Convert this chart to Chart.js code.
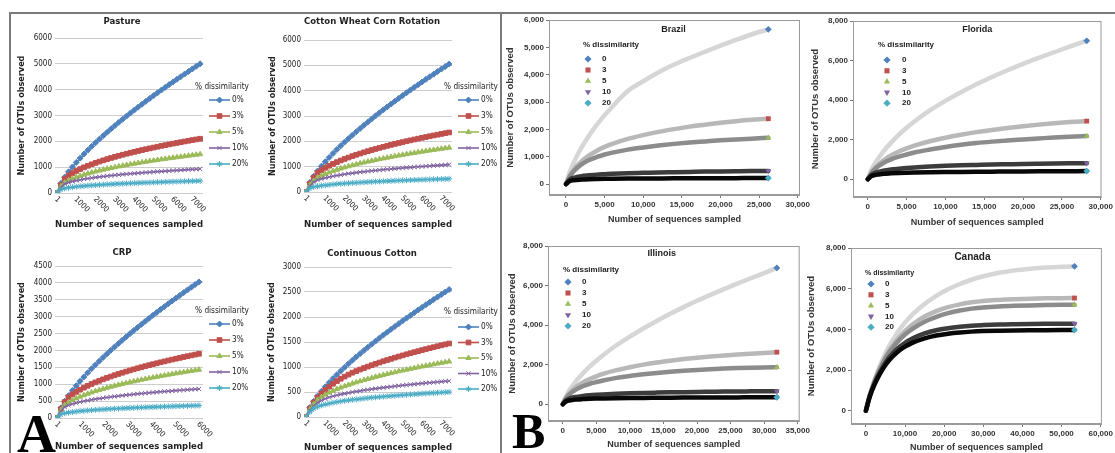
<!DOCTYPE html>
<html>
<head>
<meta charset="utf-8">
<script src="https://cdn.jsdelivr.net/npm/chart.js@4.4.1/dist/chart.umd.min.js"></script>
<style>
body{margin:0;background:#fff}
#fig{position:relative;width:1115px;height:453px;overflow:hidden;background:#fff}
#fig canvas{position:absolute}
.ln{position:absolute;background:#7a7a7a}
.big{position:absolute;font-family:'Liberation Serif','Times New Roman',serif;font-weight:bold;color:#000;line-height:1}
</style>
</head>
<body>
<div id="fig">
  <div class="ln" style="left:9px;top:12px;width:1106px;height:1.5px"></div>
  <div class="ln" style="left:9px;top:12px;width:1.5px;height:441px"></div>
  <div class="ln" style="left:500px;top:12px;width:2px;height:441px"></div>
  <canvas id="cPasture" width="248" height="220" style="left:10px;top:13px"></canvas>
  <canvas id="cCwcr" width="242" height="220" style="left:259px;top:13px"></canvas>
  <canvas id="cCrp" width="248" height="217" style="left:10px;top:236px"></canvas>
  <canvas id="cCotton" width="242" height="217" style="left:259px;top:236px"></canvas>
  <canvas id="cBrazil" width="310" height="215" style="left:502px;top:13px"></canvas>
  <canvas id="cFlorida" width="309" height="215" style="left:806px;top:13px"></canvas>
  <canvas id="cIllinois" width="310" height="217" style="left:502px;top:236px"></canvas>
  <canvas id="cCanada" width="309" height="217" style="left:806px;top:236px"></canvas>
  <div class="big" style="left:17px;top:407px;font-size:54px">A</div>
  <div class="big" style="left:512px;top:406px;font-size:50px">B</div>
</div>
<script>
// fuentes
const FA = "'Liberation Sans Narrow','DejaVu Sans Condensed','Arial Narrow',sans-serif"
const FB = "'Liberation Sans',Arial,sans-serif"

// categorias
const pctA = ['0%', '3%', '5%', '10%', '20%']
const pctB = ['0', '3', '5', '10', '20']

// panel A: eje x (secuencias) y etiquetas
const xA = [1,200,400,600,800,1000,1200,1400,1600,1800,2000,2200,2400,2600,2800,3000,3200,3400,3600,3800,4000,4200,4400,4600,4800,5000,5200,5400,5600,5800,6000,6200,6400,6600,6800,7000,7200,7400]
const xCrp = [1,162,324,486,649,811,973,1135,1297,1459,1622,1784,1946,2108,2270,2432,2595,2757,2919,3081,3243,3405,3568,3730,3892,4054,4216,4378,4541,4703,4865,5027,5189,5351,5514,5676,5838,6000]
const ticks7000 = [1,1000,2000,3000,4000,5000,6000,7000]
const ticks6000 = [1,1000,2000,3000,4000,5000,6000]

const pasture0 = [1,372,612,820,1008,1184,1350,1508,1660,1807,1950,2088,2223,2355,2484,2610,2734,2857,2977,3094,3211,3326,3439,3551,3662,3771,3879,3985,4091,4196,4299,4402,4504,4605,4705,4804,4903,5000]
const pasture3 = [1,300,540,678,772,853,926,993,1054,1112,1166,1217,1265,1312,1356,1399,1440,1480,1519,1556,1592,1628,1662,1696,1728,1760,1792,1822,1852,1882,1911,1939,1967,1995,2022,2048,2074,2100]
const pasture5 = [1,260,404,484,551,609,662,709,753,794,833,869,904,937,969,999,1029,1057,1085,1111,1137,1163,1187,1211,1235,1257,1280,1302,1323,1344,1365,1385,1405,1425,1444,1463,1482,1500]
const pasture10 = [1,220,355,406,446,480,510,537,561,583,604,623,641,659,675,690,705,720,733,746,759,771,783,795,806,817,828,838,848,858,868,877,886,895,904,913,922,930]
const pasture20 = [1,130,179,205,226,243,258,271,284,295,305,315,324,333,341,349,356,364,371,377,384,390,396,402,407,413,418,424,429,434,439,443,448,453,457,461,466,470]

const cwcr0 = [1,375,618,828,1018,1195,1363,1523,1677,1825,1969,2108,2245,2378,2508,2636,2761,2885,3006,3125,3243,3359,3473,3586,3698,3808,3917,4025,4132,4237,4342,4446,4549,4651,4752,4852,4952,5050]
const cwcr3 = [1,320,570,759,864,955,1037,1111,1180,1244,1304,1361,1416,1468,1517,1565,1612,1656,1699,1741,1782,1821,1860,1897,1934,1970,2005,2039,2073,2106,2138,2170,2201,2232,2262,2292,2321,2350]
const cwcr5 = [1,280,440,565,643,711,772,827,879,926,971,1014,1054,1093,1130,1166,1200,1233,1265,1297,1327,1356,1385,1413,1440,1467,1493,1519,1544,1568,1592,1616,1639,1662,1685,1707,1729,1750]
const cwcr10 = [1,240,390,471,518,558,593,623,652,677,701,724,745,765,784,802,819,836,851,867,882,896,910,923,936,949,961,973,985,997,1008,1019,1029,1040,1050,1060,1070,1080]
const cwcr20 = [1,140,199,227,250,269,285,300,314,326,338,348,359,368,377,386,394,402,410,417,424,431,438,444,451,457,463,469,474,480,485,491,496,501,506,511,515,520]

const crp0 = [1,299,493,661,812,954,1088,1215,1338,1456,1571,1683,1792,1898,2002,2104,2204,2302,2399,2494,2588,2680,2772,2862,2951,3039,3126,3212,3297,3382,3465,3548,3630,3711,3792,3872,3951,4030]
const crp3 = [1,260,470,614,698,772,838,898,954,1006,1055,1101,1145,1187,1227,1266,1303,1339,1374,1408,1441,1473,1503,1534,1564,1593,1621,1649,1676,1703,1729,1755,1780,1805,1829,1853,1877,1900]
const crp5 = [1,230,385,462,526,581,631,676,718,757,794,828,862,893,923,953,981,1008,1034,1059,1084,1108,1132,1155,1177,1199,1220,1241,1261,1282,1301,1321,1340,1358,1377,1395,1413,1430]
const crp10 = [1,200,328,375,413,444,472,496,519,539,558,576,593,609,624,638,652,665,678,690,702,713,724,735,746,756,765,775,784,794,802,811,820,828,836,844,852,860]
const crp20 = [1,100,141,161,178,191,203,214,223,232,240,248,255,262,268,275,281,286,292,297,302,307,312,316,321,325,329,333,337,341,345,349,353,356,360,363,367,370]

const cotton0 = [1,189,312,418,514,604,688,769,847,921,994,1065,1134,1201,1267,1331,1394,1457,1518,1578,1638,1696,1754,1811,1867,1923,1978,2032,2086,2140,2192,2245,2297,2348,2400,2450,2500,2550]
const cotton3 = [1,170,290,390,470,540,605,665,718,765,808,848,886,918,949,979,1008,1036,1063,1089,1115,1139,1163,1187,1210,1232,1254,1276,1297,1317,1338,1358,1377,1396,1415,1434,1452,1470]
const cotton5 = [1,150,255,340,400,447,488,525,557,588,616,643,669,693,717,739,761,782,803,822,842,860,878,896,914,931,947,963,979,995,1010,1025,1040,1054,1069,1083,1096,1110]
const cotton10 = [1,130,220,285,330,365,393,416,434,452,468,482,497,510,522,535,546,557,568,578,588,597,606,615,624,633,641,649,657,664,672,679,686,693,700,707,714,720]
const cotton20 = [1,100,165,205,232,252,270,286,300,314,325,335,345,354,363,371,379,387,394,401,408,415,421,427,433,439,445,451,456,461,467,472,477,481,486,491,496,500]

// panel B
const brazilX = [0,500,1000,2000,3000,4000,5000,6000,8000,10000,12000,14000,16000,18000,20000,22000,24000,26200]
const brazil0 = [0,450,780,1330,1780,2170,2520,2830,3400,3760,4090,4370,4610,4840,5060,5270,5470,5660]
const brazil3 = [0,300,520,830,1050,1220,1360,1470,1650,1790,1910,2010,2100,2170,2240,2300,2350,2390]
const brazil5 = [0,280,470,720,880,990,1080,1150,1260,1340,1410,1470,1520,1560,1600,1630,1660,1690]
const brazil10 = [0,170,230,290,320,345,360,375,395,410,425,435,445,455,462,468,474,480]
const brazil20 = [0,110,140,165,178,185,190,194,200,204,207,210,212,214,216,217,218,220]
const brazilXTicks = [0,5000,10000,15000,20000,25000,30000]
const brazilYTicks = [0,1000,2000,3000,4000,5000,6000]

const floridaX = [0,500,1000,2000,3000,4000,5000,6000,8000,10000,12000,14000,16000,18000,20000,22000,24000,26000,28200]
const florida0 = [0,500,850,1400,1850,2250,2600,2920,3480,3960,4400,4800,5170,5510,5830,6130,6420,6700,7000]
const florida3 = [0,350,600,950,1200,1400,1560,1700,1920,2100,2250,2380,2490,2590,2680,2760,2830,2890,2940]
const florida5 = [0,320,540,820,1000,1140,1250,1350,1500,1630,1740,1830,1900,1960,2010,2060,2110,2150,2180]
const florida10 = [0,230,330,430,490,530,565,595,640,675,700,720,740,755,770,782,793,802,810]
const florida20 = [0,160,220,270,295,315,328,338,352,362,370,377,383,389,394,398,402,406,410]
const floridaXTicks = [0,5000,10000,15000,20000,25000,30000]

const illinoisX = [0,500,1000,2000,3000,4000,5000,6000,8000,10000,12000,14000,16000,18000,20000,22000,24000,26000,28000,30000,31900]
const illinois0 = [0,420,720,1180,1560,1900,2200,2480,2980,3420,3830,4210,4570,4910,5230,5530,5820,6100,6370,6630,6890]
const illinois3 = [0,330,560,880,1100,1270,1410,1530,1720,1870,2000,2110,2200,2280,2350,2410,2460,2510,2550,2590,2630]
const illinois5 = [0,300,500,750,910,1030,1120,1200,1330,1430,1510,1580,1640,1690,1730,1770,1800,1825,1845,1860,1870]
const illinois10 = [0,200,290,370,415,450,475,495,525,550,570,585,598,610,620,628,636,643,649,655,660]
const illinois20 = [0,140,190,235,258,273,283,291,303,312,319,324,329,333,336,339,342,344,346,348,350]
const illinoisXTicks = [0,5000,10000,15000,20000,25000,30000,35000]

const canadaX = [0,1000,2000,3000,4000,5000,6000,8000,10000,12000,15000,18000,21000,24000,27000,30000,34000,38000,42000,46000,50000,53300]
const canada0 = [0,780,1400,1930,2400,2820,3190,3820,4330,4750,5250,5650,5970,6230,6440,6610,6780,6900,6980,7040,7080,7100]
const canada3 = [0,760,1350,1840,2260,2640,2970,3500,3920,4250,4630,4900,5090,5230,5330,5400,5450,5485,5510,5525,5535,5540]
const canada5 = [0,750,1320,1800,2200,2560,2870,3370,3750,4040,4380,4620,4800,4930,5020,5080,5130,5160,5180,5195,5205,5210]
const canada10 = [0,720,1250,1680,2040,2360,2630,3040,3340,3560,3800,3960,4060,4130,4180,4210,4240,4255,4265,4272,4277,4280]
const canada20 = [0,700,1200,1600,1950,2250,2500,2880,3150,3350,3560,3700,3790,3850,3890,3915,3935,3950,3958,3963,3967,3970]
const canadaXTicks = [0,10000,20000,30000,40000,50000,60000]

const yTicks8000 = [0,2000,4000,6000,8000]

// estilos
const coloresA = ['#4f81bd', '#c0504d', '#9bbb59', '#8064a2', '#4bacc6']
const marcasA = ['rectRot', 'rect', 'triangle', 'crossRot', 'star']
const radiosA = [3, 3.3, 3, 3, 3]
const grisesB = ['#d6d6d6', '#b8b8b8', '#8c8c8c', '#3c3c3c', '#080808']
const marcasB = ['rectRot', 'rect', 'triangle', 'triangle', 'rectRot']
const giroB = [0, 0, 0, 180, 0]

const drawPt = (Chart.helpers && Chart.helpers.drawPoint) ? Chart.helpers.drawPoint : null

// etiquetas del eje x giradas (estilo Excel)
const rotTicks = {
    id: 'rotTicks',
    afterDraw(chart, args, opts) {
        const sx = chart.scales.x
        const ctx = chart.ctx
        const b = chart.chartArea.bottom
        ctx.save()
        ctx.fillStyle = '#222'
        ctx.font = '8px ' + FA
        ctx.textAlign = 'left'
        ctx.textBaseline = 'middle'
        opts.values.forEach(v => {
            ctx.save()
            ctx.translate(sx.getPixelForValue(v) - 1, b + 5)
            ctx.rotate(Math.PI / 4)
            ctx.fillText(String(v), 0, 0)
            ctx.restore()
        })
        ctx.restore()
    }
}

// titulo y leyenda del panel A
const legA = {
    id: 'legA',
    afterDraw(chart, args, o) {
        const ctx = chart.ctx
        const a = chart.chartArea
        const r = a.right
        const t = a.top
        ctx.save()
        ctx.textBaseline = 'middle'
        ctx.fillStyle = '#222'
        ctx.textAlign = 'center'
        ctx.font = 'bold 9.5px ' + FA
        ctx.fillText(o.title, (a.left + a.right) / 2 + o.tdx, t + o.tdy)
        ctx.font = '8.2px ' + FA
        ctx.fillText('% dissimilarity', r + 19, t + o.dy)
        ctx.textAlign = 'left'
        chart.data.datasets.forEach((d, k) => {
            const y = t + o.row0 + o.step * k
            ctx.strokeStyle = d.borderColor
            ctx.fillStyle = d.borderColor
            ctx.lineWidth = 1.6
            ctx.beginPath()
            ctx.moveTo(r + 6, y)
            ctx.lineTo(r + 27, y)
            ctx.stroke()
            ctx.lineWidth = 1
            if (drawPt) drawPt(ctx, {pointStyle: d.pointStyle, radius: d.pointRadius, rotation: 0, borderWidth: 1}, r + 16.5, y)
            ctx.fillStyle = '#222'
            ctx.fillText(d.label, r + 29, y)
        })
        ctx.restore()
    }
}

const marco = {
    id: 'marco',
    afterDraw(chart) {
        const a = chart.chartArea
        const ctx = chart.ctx
        ctx.save()
        ctx.strokeStyle = '#9a9a9a'
        ctx.lineWidth = 1
        ctx.strokeRect(a.left + 0.5, a.top + 0.5, a.width - 1, a.height - 1)
        ctx.restore()
    }
}

const legB = {
    id: 'legB',
    afterDraw(chart, args, o) {
        const ctx = chart.ctx
        const a = chart.chartArea
        ctx.save()
        ctx.textBaseline = 'middle'
        ctx.fillStyle = '#222'
        ctx.font = 'bold ' + o.ts + 'px ' + FB
        ctx.textAlign = 'center'
        ctx.fillText(o.title, a.left + a.width / 2 + o.tdx, a.top + o.tdy)
        ctx.textAlign = 'left'
        ctx.font = 'bold ' + o.fs + 'px ' + FB
        ctx.fillText('% dissimilarity', a.left + o.lx, a.top + o.ly)
        ctx.font = 'bold 8px ' + FB
        chart.data.datasets.forEach((d, k) => {
            const y = a.top + o.r0 + o.step * k
            ctx.fillStyle = d.pointBackgroundColor
            ctx.strokeStyle = d.pointBackgroundColor
            if (drawPt) drawPt(ctx, {pointStyle: d.pointStyle, radius: 3.6, rotation: d.pointRotation, borderWidth: 0}, a.left + o.mx, y)
            ctx.fillStyle = '#222'
            ctx.fillText(d.label, a.left + o.tx, y)
        })
        ctx.restore()
    }
}

const makeA = (id, o) => {
    new Chart(document.getElementById(id), {
        type: 'line',
        data: {
            datasets: o.series.map((s, k) => ({
                label: pctA[k],
                data: o.x.map((x, i) => ({x: x, y: s[i]})),
                borderColor: coloresA[k],
                backgroundColor: coloresA[k],
                borderWidth: 1.6,
                pointStyle: marcasA[k],
                pointRadius: radiosA[k],
                pointBorderWidth: 1,
                pointBorderColor: coloresA[k],
                pointBackgroundColor: coloresA[k],
                order: 4 - k
            }))
        },
        options: {
            responsive: false,
            animation: false,
            layout: {padding: {right: o.padR, top: o.padT, left: 0, bottom: 0}},
            plugins: {
                legend: {display: false},
                tooltip: {enabled: false},
                title: {display: false},
                rotTicks: {values: o.ticks},
                legA: {title: o.title, tdx: o.tdx, tdy: o.tdy, dy: o.legDy, row0: o.row0, step: o.step}
            },
            scales: {
                x: {
                    type: 'linear', min: o.xmin, max: o.xmax,
                    ticks: {display: false},
                    grid: {display: false},
                    border: {display: false},
                    title: {
                        display: true, text: 'Number of sequences sampled', color: '#222',
                        font: {family: FA, size: 9.5, weight: 'bold'},
                        padding: {top: 0, bottom: o.xtPad}
                    },
                    afterFit: s => { s.height = o.xH }
                },
                y: {
                    min: 0, max: o.ymax,
                    ticks: {stepSize: o.ystep, color: '#222', font: {family: FA, size: 8}, padding: 3, callback: v => String(v)},
                    grid: {color: '#cdcdcd', drawTicks: false},
                    border: {display: false},
                    title: {
                        display: true, text: 'Number of OTUs observed', color: '#222',
                        font: {family: FA, size: 9, weight: 'bold'},
                        padding: {top: o.ytPad, bottom: 0}
                    },
                    afterFit: s => { s.width = 45 }
                }
            }
        },
        plugins: [rotTicks, legA]
    })
}

const makeB = (id, o) => {
    const n = o.x.length
    new Chart(document.getElementById(id), {
        type: 'line',
        data: {
            datasets: o.series.map((s, k) => ({
                label: pctB[k],
                data: o.x.map((x, i) => ({x: x, y: s[i]})),
                borderColor: grisesB[k],
                borderWidth: 4.5,
                borderCapStyle: 'round',
                cubicInterpolationMode: 'monotone',
                pointRadius: o.x.map((x, i) => i === n - 1 ? 3.4 : 0),
                pointStyle: marcasB[k],
                pointRotation: giroB[k],
                pointBackgroundColor: coloresA[k],
                pointBorderColor: coloresA[k],
                pointBorderWidth: 0,
                order: 4 - k
            }))
        },
        options: {
            responsive: false,
            animation: false,
            layout: {padding: {top: o.padT, right: o.padR, left: 0, bottom: 0}},
            plugins: {
                legend: {display: false},
                tooltip: {enabled: false},
                legB: o.leg
            },
            scales: {
                x: {
                    type: 'linear', min: o.xmin, max: o.xmax,
                    afterBuildTicks: s => { s.ticks = o.xticks.map(v => ({value: v})) },
                    ticks: {
                        autoSkip: false, maxRotation: 0, minRotation: 0,
                        color: '#333', font: {family: FB, size: 8, weight: 'bold'}, padding: 2,
                        callback: v => v.toLocaleString('en-US')
                    },
                    grid: {drawOnChartArea: false, color: '#777', tickLength: 3},
                    border: {color: '#9a9a9a'},
                    title: {
                        display: true, text: 'Number of sequences sampled', color: '#333',
                        font: {family: FB, size: 9, weight: 'bold'},
                        padding: {top: 0, bottom: o.xtPad}
                    },
                    afterFit: s => { s.height = o.xH }
                },
                y: {
                    min: o.ymin, max: o.ymax,
                    afterBuildTicks: s => { s.ticks = o.yticks.map(v => ({value: v})) },
                    ticks: {
                        autoSkip: false,
                        color: '#333', font: {family: FB, size: 8, weight: 'bold'}, padding: 2,
                        callback: v => v.toLocaleString('en-US')
                    },
                    grid: {drawOnChartArea: false, color: '#777', tickLength: 3},
                    border: {color: '#9a9a9a'},
                    title: {
                        display: true, text: 'Number of OTUs observed', color: '#333',
                        font: {family: FB, size: 9.5, weight: 'bold'},
                        padding: {top: o.ytPad, bottom: 0}
                    },
                    afterFit: s => { s.width = o.yW }
                }
            }
        },
        plugins: [marco, legB]
    })
}

makeA('cPasture', {
    title: 'Pasture', x: xA, ticks: ticks7000,
    series: [pasture0, pasture3, pasture5, pasture10, pasture20],
    xmin: -100, xmax: 7550, ymax: 6000, ystep: 1000,
    padR: 55, padT: 25, tdx: -7, tdy: -16, xH: 40, xtPad: 2.3, ytPad: 6.6,
    legDy: 49, row0: 62, step: 16
})
makeA('cCwcr', {
    title: 'Cotton Wheat Corn Rotation', x: xA, ticks: ticks7000,
    series: [cwcr0, cwcr3, cwcr5, cwcr10, cwcr20],
    xmin: -100, xmax: 7550, ymax: 6000, ystep: 1000,
    padR: 49, padT: 27, tdx: -6, tdy: -18, xH: 41, xtPad: 2.3, ytPad: 8.6,
    legDy: 47, row0: 60, step: 16
})
makeA('cCrp', {
    title: 'CRP', x: xCrp, ticks: ticks6000,
    series: [crp0, crp3, crp5, crp10, crp20],
    xmin: -84, xmax: 6170, ymax: 4500, ystep: 500,
    padR: 55, padT: 30, tdx: -7, tdy: -13, xH: 35, xtPad: 0.3, ytPad: 6.6,
    legDy: 45, row0: 58, step: 16
})
makeA('cCotton', {
    title: 'Continuous Cotton', x: xA, ticks: ticks7000,
    series: [cotton0, cotton3, cotton5, cotton10, cotton20],
    xmin: -100, xmax: 7550, ymax: 3000, ystep: 500,
    padR: 49, padT: 31, tdx: -6, tdy: -13, xH: 36, xtPad: 0, ytPad: 7.6,
    legDy: 45, row0: 60, step: 15.5
})

makeB('cBrazil', {
    x: brazilX, series: [brazil0, brazil3, brazil5, brazil10, brazil20],
    xmin: -2200, xmax: 30300, xticks: brazilXTicks, ymin: -400, ymax: 6000, yticks: brazilYTicks,
    padT: 7, padR: 11, yW: 47, xH: 33, xtPad: 2.6, ytPad: 2.3,
    leg: {title: 'Brazil', ts: 9, tdx: -1, tdy: 10, fs: 8, lx: 34, ly: 25, mx: 39, tx: 53, r0: 39, step: 11}
})
makeB('cFlorida', {
    x: floridaX, series: [florida0, florida3, florida5, florida10, florida20],
    xmin: -1900, xmax: 30100, xticks: floridaXTicks, ymin: -900, ymax: 8000, yticks: yTicks8000,
    padT: 8, padR: 12, yW: 47, xH: 31, xtPad: 0, ytPad: 3.3,
    leg: {title: 'Florida', ts: 9, tdx: 0, tdy: 9, fs: 8, lx: 25, ly: 24, mx: 34, tx: 49, r0: 39, step: 10.8}
})
makeB('cIllinois', {
    x: illinoisX, series: [illinois0, illinois3, illinois5, illinois10, illinois20],
    xmin: -2200, xmax: 35300, xticks: illinoisXTicks, ymin: -850, ymax: 8000, yticks: yTicks8000,
    padT: 10, padR: 10, yW: 46, xH: 32, xtPad: 2.6, ytPad: 4.3,
    leg: {title: 'Illinois', ts: 9, tdx: -12, tdy: 8, fs: 8, lx: 15, ly: 24, mx: 20, tx: 34, r0: 36, step: 11}
})
makeB('cCanada', {
    x: canadaX, series: [canada0, canada3, canada5, canada10, canada20],
    xmin: -3800, xmax: 60300, xticks: canadaXTicks, ymin: -650, ymax: 8000, yticks: yTicks8000,
    padT: 12, padR: 11, yW: 45, xH: 29, xtPad: 0, ytPad: 0,
    leg: {title: 'Canada', ts: 10, tdx: -4, tdy: 9, fs: 7, lx: 14, ly: 25, mx: 20, tx: 34, r0: 36, step: 10.8}
})
</script>
</body>
</html>
